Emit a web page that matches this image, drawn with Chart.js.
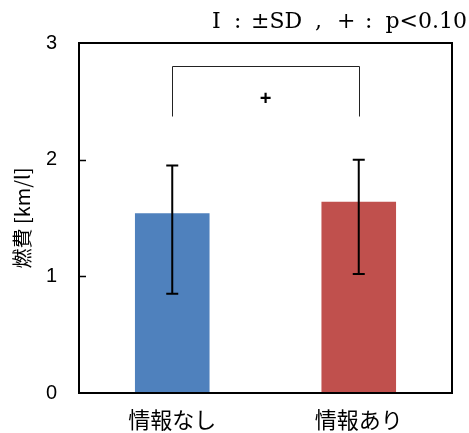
<!DOCTYPE html>
<html>
<head>
<meta charset="utf-8">
<script src="https://cdn.jsdelivr.net/npm/chart.js@4.4.1/dist/chart.umd.min.js"></script>
<style>
  html, body { margin: 0; padding: 0; background: #fff; }
  #wrap { width: 469px; height: 433px; position: relative; }
</style>
</head>
<body>
<div id="wrap"><canvas id="c" width="469" height="433"></canvas></div>
<script>
// ---- data ----
const categories = ['情報なし', '情報あり'];
const means = [1.54, 1.64];
const errLow = [0.85, 1.02];
const errHigh = [1.95, 2.00];
const barColors = ['#4F81BD', '#C0504D'];
const yTicks = [0, 1, 2, 3];
const bracketTop = 2.80;
const bracketBottom = 2.37;
const bracketMark = '+';
const noteParts = ['I', ':', '±SD', ',', '+', ':', 'p<0.10'];
const yTitle = '燃費 [km/l]';

const overlay = {
  id: 'overlay',
  afterDatasetsDraw(chart) {
    const ctx = chart.ctx;
    const x = chart.scales.x, y = chart.scales.y;
    const a = chart.chartArea;
    ctx.save();
    // error bars
    ctx.strokeStyle = '#000';
    ctx.lineWidth = 2;
    categories.forEach((c, i) => {
      const cx = x.getPixelForValue(i);
      const yt = y.getPixelForValue(errHigh[i]);
      const yb = y.getPixelForValue(errLow[i]);
      ctx.beginPath();
      ctx.moveTo(cx, yt); ctx.lineTo(cx, yb);
      ctx.moveTo(cx - 6, yt); ctx.lineTo(cx + 6, yt);
      ctx.moveTo(cx - 6, yb); ctx.lineTo(cx + 6, yb);
      ctx.stroke();
    });
    // bracket
    const x0 = x.getPixelForValue(0), x1 = x.getPixelForValue(1);
    const bt = y.getPixelForValue(bracketTop), bb = y.getPixelForValue(bracketBottom);
    ctx.lineWidth = 1;
    ctx.strokeStyle = '#222';
    ctx.beginPath();
    ctx.moveTo(Math.round(x0) + 0.5, bb);
    ctx.lineTo(Math.round(x0) + 0.5, Math.round(bt) + 0.5);
    ctx.lineTo(Math.round(x1) + 0.5, Math.round(bt) + 0.5);
    ctx.lineTo(Math.round(x1) + 0.5, bb);
    ctx.stroke();
    ctx.fillStyle = '#000';
    ctx.font = 'bold 20px "Liberation Sans", Arial, sans-serif';
    ctx.textAlign = 'center';
    ctx.textBaseline = 'middle';
    ctx.fillText(bracketMark, (x0 + x1) / 2, (bt + bb) / 2 + 8);
    // box
    ctx.lineWidth = 2;
    ctx.strokeStyle = '#000';
    ctx.strokeRect(a.left, a.top, a.right - a.left, a.bottom - a.top);
    // inner tick marks
    ctx.beginPath();
    yTicks.forEach(v => {
      if (v === 0 || v === 3) return;
      const py = Math.round(y.getPixelForValue(v)) + 0.5;
      ctx.moveTo(a.left, py); ctx.lineTo(a.left + 7, py);
    });
    ctx.lineWidth = 1.5;
    ctx.stroke();
    // note
    ctx.font = '22px "DejaVu Serif", serif';
    ctx.textBaseline = 'alphabetic';
    ctx.fillStyle = '#000';
    const starts = [212, 234, 251, 315, 337, 365];
    ctx.textAlign = 'left';
    for (let i = 0; i < noteParts.length - 1; i++) {
      ctx.fillText(noteParts[i], starts[i], 28);
    }
    ctx.textAlign = 'right';
    ctx.fillText(noteParts[noteParts.length - 1], 467, 28);
    ctx.restore();
  }
};

new Chart(document.getElementById('c'), {
  type: 'bar',
  data: {
    labels: categories,
    datasets: [{
      data: means,
      backgroundColor: barColors,
      barPercentage: 0.4,
      categoryPercentage: 1.0,
      borderWidth: 0
    }]
  },
  options: {
    responsive: false,
    animation: false,
    devicePixelRatio: 1,
    layout: { padding: { top: 43, right: 17, left: 0, bottom: 0 } },
    plugins: { legend: { display: false }, tooltip: { enabled: false }, title: { display: false } },
    scales: {
      x: {
        grid: { display: false, drawTicks: false },
        border: { display: false },
        ticks: {
          color: '#000',
          padding: 13,
          font: { family: '"Noto Sans CJK JP", sans-serif', size: 22 }
        },
        afterFit(s) { s.height = 40; }
      },
      y: {
        min: 0, max: 3,
        afterBuildTicks(s) { s.ticks = yTicks.map(v => ({ value: v })); },
        grid: { display: false, drawTicks: false },
        border: { display: false },
        ticks: {
          color: '#000',
          padding: 22,
          font: { family: '"Liberation Sans", Arial, sans-serif', size: 20 }
        },
        title: {
          display: true,
          text: yTitle,
          color: '#000',
          padding: { top: 10, bottom: 0 },
          font: { family: '"Noto Sans CJK JP", sans-serif', size: 20 }
        },
        afterFit(s) { s.width = 79; }
      }
    }
  },
  plugins: [overlay]
});
</script>
</body>
</html>
